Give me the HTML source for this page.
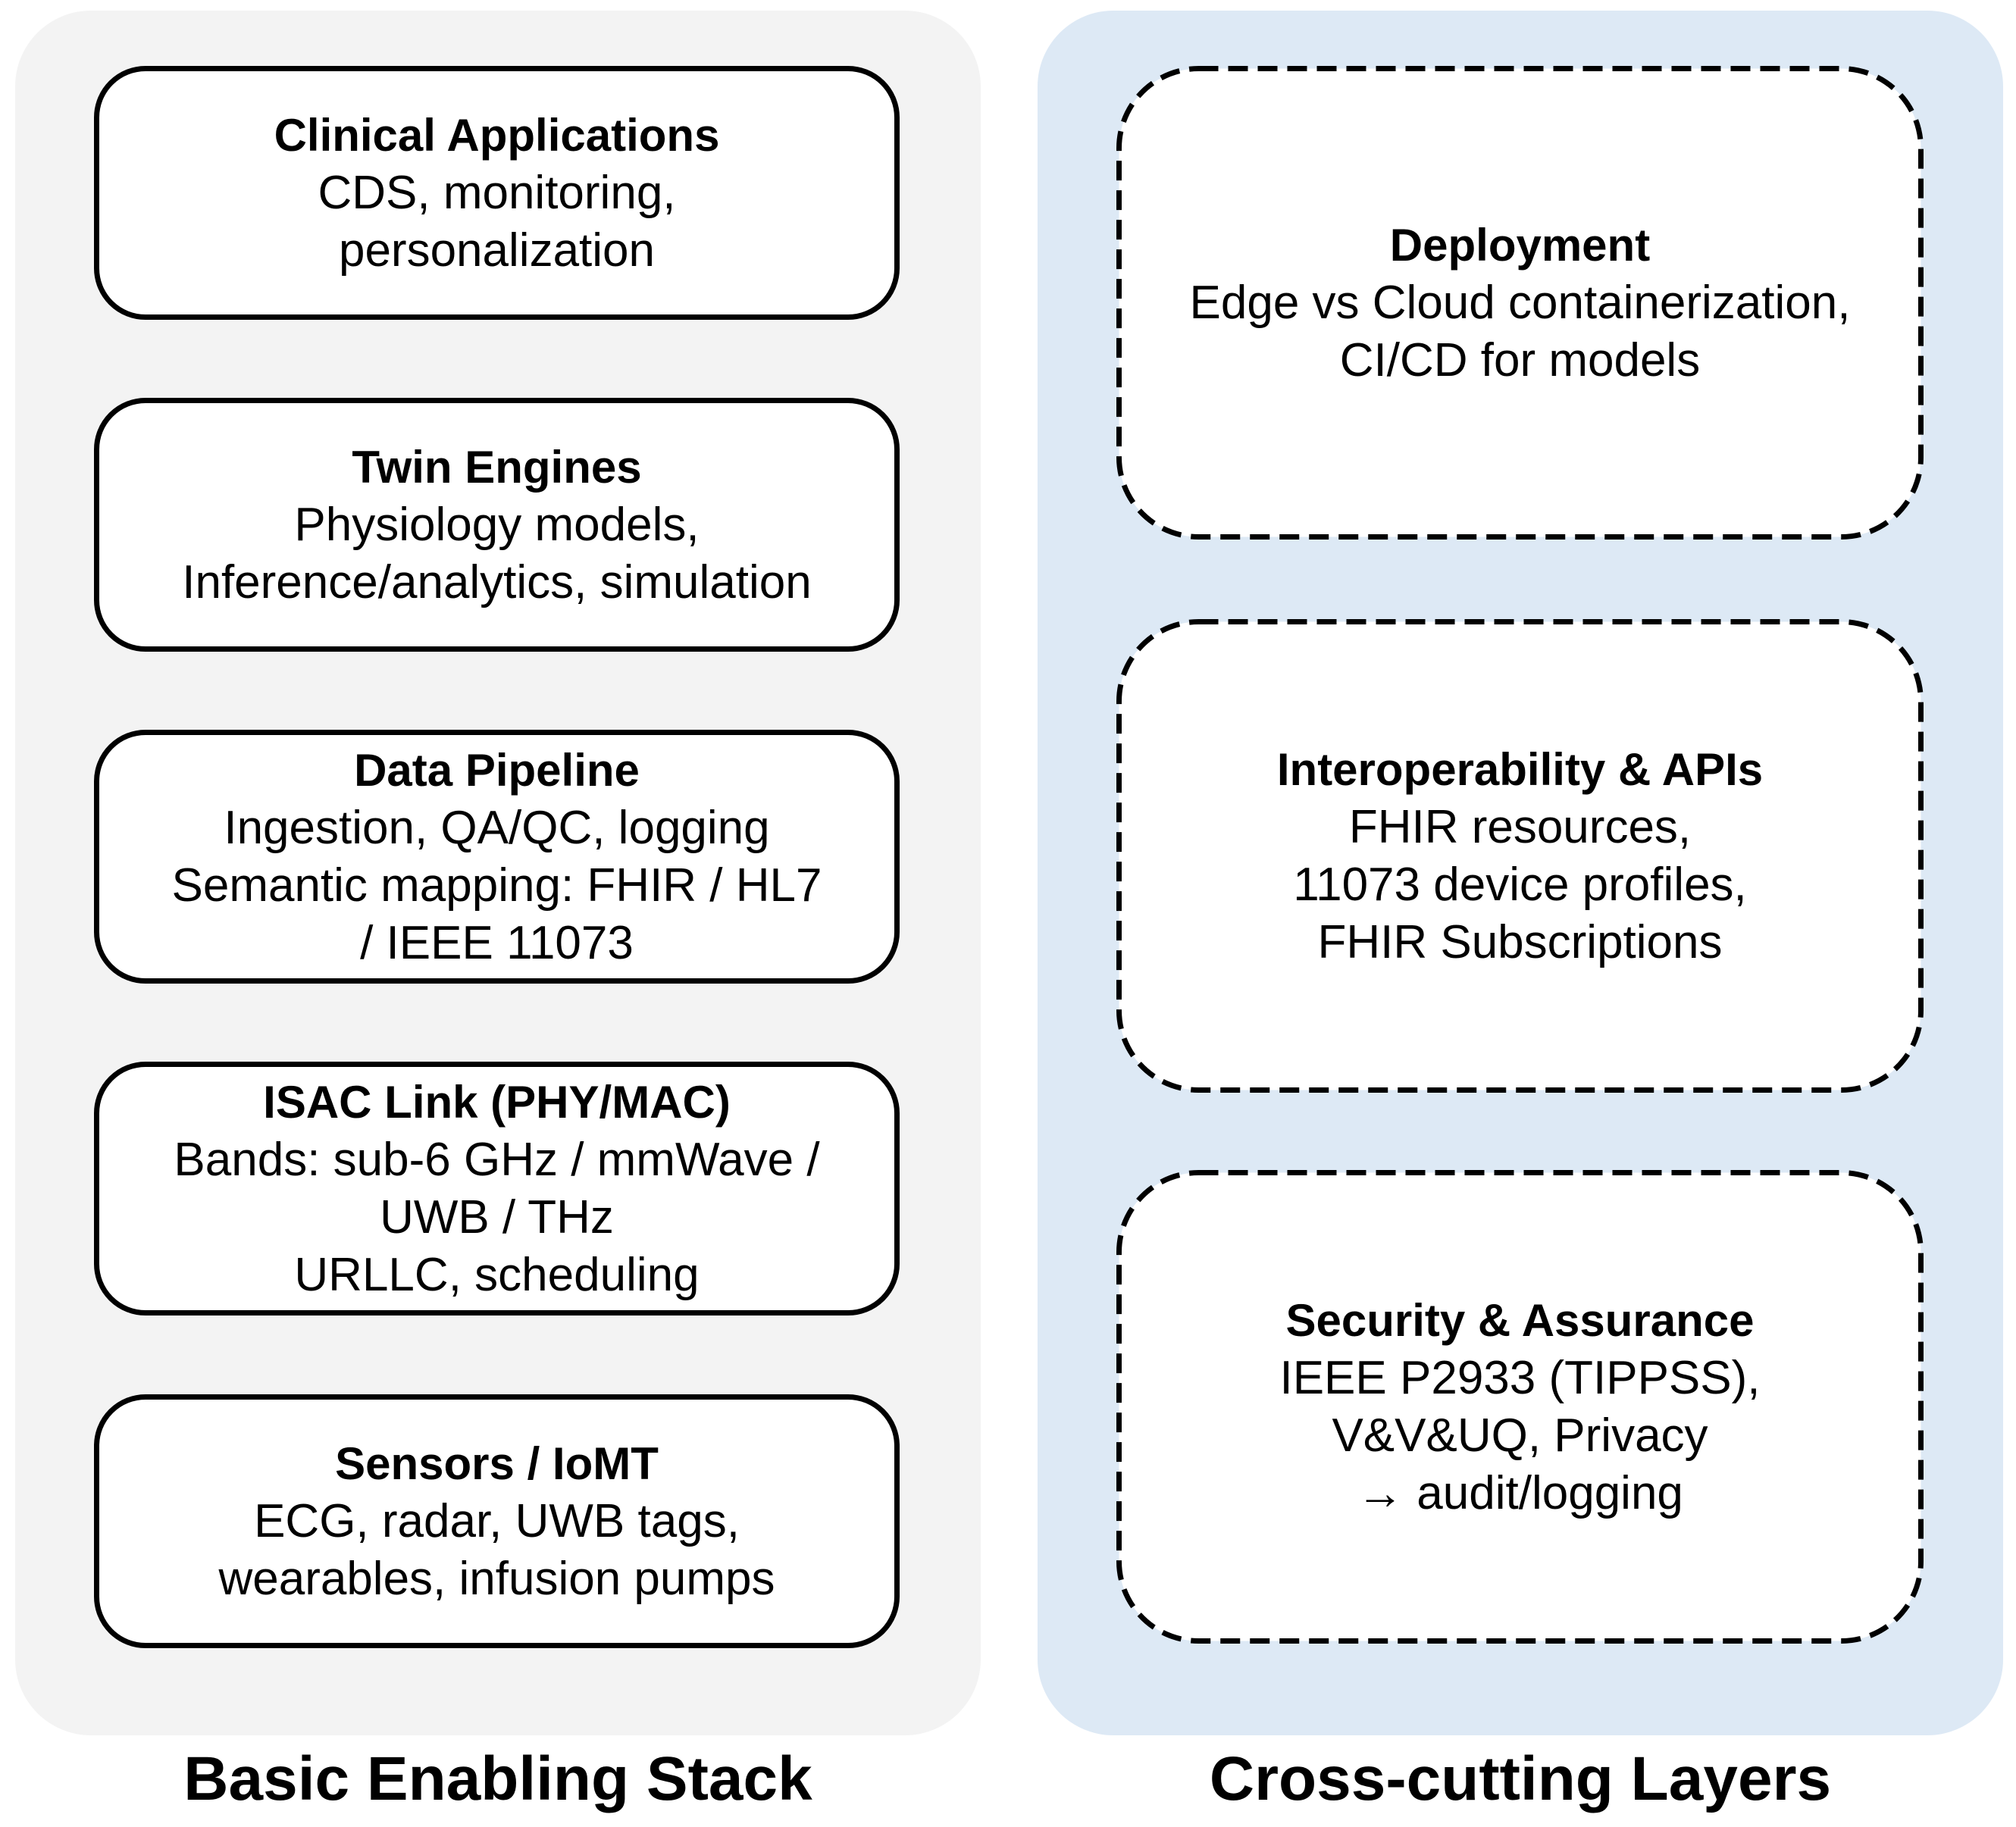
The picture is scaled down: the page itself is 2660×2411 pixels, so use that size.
<!DOCTYPE html>
<html><head><meta charset="utf-8"><style>
body{margin:0;width:2660px;height:2411px;background:#fff;position:relative;overflow:hidden;font-family:"Liberation Sans","Noto Sans CJK KR",sans-serif;color:#000}
.panel{position:absolute;top:14px;height:2276px;width:1274px;border-radius:100px}
.box{position:absolute;box-sizing:border-box;display:flex;flex-direction:column;justify-content:center;align-items:center;text-align:center;font-size:62px;line-height:76px}
.s{left:124px;width:1063px;height:335px;border:7px solid #000;border-radius:68px;background:#fff}
.d{left:1473px;width:1065px;height:625px}
b{font-weight:bold;font-size:60px}
.t{position:absolute;top:2300px;width:1274px;text-align:center;font-size:82px;font-weight:bold;line-height:96px}
</style></head><body>
<div class="panel" style="left:20px;background:#f3f3f3"></div>
<div class="panel" style="left:1369px;background:#dde9f5"></div>
<svg style="position:absolute;left:0;top:0" width="2660" height="2411">
<g fill="#fff" stroke="#000" stroke-width="7" stroke-dasharray="26 13">
<rect x="1476.5" y="90.5" width="1058" height="618" rx="105"/>
<rect x="1476.5" y="820.5" width="1058" height="618" rx="105"/>
<rect x="1476.5" y="1547.5" width="1058" height="618" rx="105"/>
</g></svg>

<div class="box s" style="top:87px"><b>Clinical Applications</b><div>CDS, monitoring,</div><div>personalization</div></div>
<div class="box s" style="top:525px"><b>Twin Engines</b><div>Physiology models,</div><div>Inference/analytics, simulation</div></div>
<div class="box s" style="top:963px"><b>Data Pipeline</b><div>Ingestion, QA/QC, logging</div><div>Semantic mapping: FHIR / HL7</div><div>/ IEEE 11073</div></div>
<div class="box s" style="top:1401px"><b>ISAC Link (PHY/MAC)</b><div>Bands: sub-6 GHz / mmWave /</div><div>UWB / THz</div><div>URLLC, scheduling</div></div>
<div class="box s" style="top:1840px"><b>Sensors / IoMT</b><div>ECG, radar, UWB tags,</div><div>wearables, infusion pumps</div></div>

<div class="box d" style="top:87px"><b>Deployment</b><div>Edge vs Cloud containerization,</div><div>CI/CD for models</div></div>
<div class="box d" style="top:817px"><b>Interoperability &amp; APIs</b><div>FHIR resources,</div><div>11073 device profiles,</div><div>FHIR Subscriptions</div></div>
<div class="box d" style="top:1544px"><b>Security &amp; Assurance</b><div>IEEE P2933 (TIPPSS),</div><div>V&amp;V&amp;UQ, Privacy</div><div>→ audit/logging</div></div>

<div class="t" style="left:20px">Basic Enabling Stack</div>
<div class="t" style="left:1369px">Cross-cutting Layers</div>
</body></html>
